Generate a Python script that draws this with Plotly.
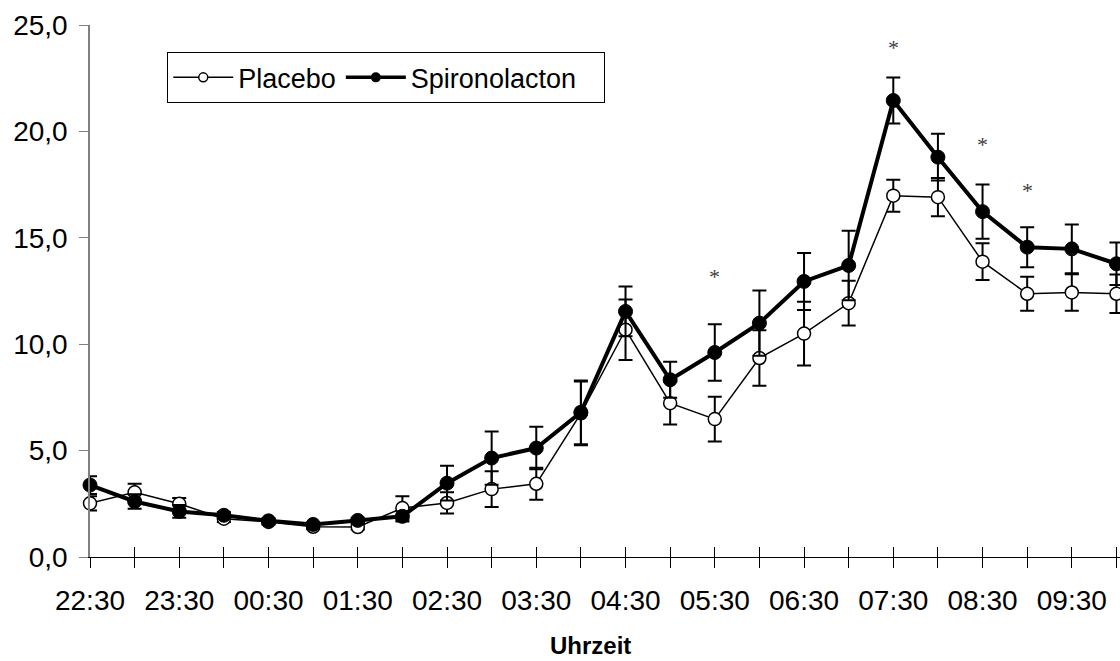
import plotly.graph_objects as go

times = ["22:30", "23:00", "23:30", "00:00", "00:30", "01:00", "01:30", "02:00",
         "02:30", "03:00", "03:30", "04:00", "04:30", "05:00", "05:30", "06:00",
         "06:30", "07:00", "07:30", "08:00", "08:30", "09:00", "09:30", "10:00"]

placebo = [2.52, 3.04, 2.50, 1.80, 1.65, 1.42, 1.41, 2.30, 2.54, 3.19, 3.44, 6.75,
           10.68, 7.23, 6.48, 9.35, 10.50, 11.93, 16.98, 16.91, 13.88, 12.37, 12.43, 12.37]
placebo_err = [0.33, 0.40, 0.27, 0.15, 0.12, 0.10, 0.12, 0.55, 0.50, 0.84, 0.75, 1.50,
               1.42, 1.00, 1.05, 1.30, 1.50, 1.05, 0.75, 0.90, 0.86, 0.80, 0.86, 0.90]

spiro = [3.38, 2.61, 2.14, 1.96, 1.70, 1.53, 1.72, 1.91, 3.47, 4.65, 5.12, 6.80,
         11.54, 8.33, 9.61, 10.99, 12.95, 13.70, 21.45, 18.79, 16.23, 14.56, 14.48, 13.78]
spiro_err = [0.42, 0.34, 0.30, 0.15, 0.12, 0.10, 0.12, 0.24, 0.82, 1.25, 1.00, 1.50,
             1.17, 0.85, 1.33, 1.53, 1.34, 1.63, 1.08, 1.10, 1.27, 0.94, 1.15, 1.00]

tick_text = [t if i % 2 == 0 else "" for i, t in enumerate(times)]

sig_times = ["05:30", "07:30", "08:30", "09:00"]
sig_y = [13.2, 23.95, 19.4, 17.2]

x_title = "Uhrzeit"

FONT = "Liberation Sans, Arial, sans-serif"

fig = go.Figure()

fig.add_trace(go.Scatter(
    x=times, y=placebo, mode="lines+markers", name="Placebo", showlegend=False,
    line=dict(color="black", width=1.5),
    marker=dict(symbol="circle", size=13, color="white", line=dict(color="black", width=1.5)),
    error_y=dict(type="data", array=placebo_err, color="black", thickness=2, width=7),
    cliponaxis=False,
))
fig.add_trace(go.Scatter(
    x=times, y=spiro, mode="lines+markers", name="Spironolacton", showlegend=False,
    line=dict(color="black", width=4),
    marker=dict(symbol="circle", size=14, color="black", line=dict(color="black", width=1)),
    error_y=dict(type="data", array=spiro_err, color="black", thickness=2, width=7),
    cliponaxis=False,
))

# legend entries
fig.add_trace(go.Scatter(
    x=[None], y=[None], mode="lines+markers", name="Placebo",
    line=dict(color="black", width=1.5),
    marker=dict(symbol="circle", size=9, color="white", line=dict(color="black", width=1.5)),
))
fig.add_trace(go.Scatter(
    x=[None], y=[None], mode="lines+markers", name="Spironolacton&nbsp;&nbsp;&nbsp;",
    line=dict(color="black", width=3.5),
    marker=dict(symbol="circle", size=10, color="black"),
))

# helper trace for the inward half of the x ticks
fig.add_trace(go.Scatter(x=times, y=placebo, xaxis="x2", mode="none",
                         showlegend=False, hoverinfo="skip"))

for t, yv in zip(sig_times, sig_y):
    fig.add_annotation(x=t, y=yv, text="*", showarrow=False, xref="x", yref="y",
                       font=dict(family="Liberation Serif, Times New Roman, serif",
                                 size=22, color="#404040"),
                       yanchor="middle")

fig.add_annotation(text="<b>" + x_title + "</b>", xref="paper", yref="paper",
                   x=0.4864, y=-0.166, xanchor="center", yanchor="middle",
                   showarrow=False, font=dict(family=FONT, size=24, color="black"))

xrange = [0, 23.08]

fig.update_layout(
    width=1120, height=661,
    margin=dict(l=90, r=0, t=25, b=104),
    paper_bgcolor="white", plot_bgcolor="white",
    separators=",.",
    font=dict(family=FONT, size=27, color="black"),
    xaxis=dict(
        type="category", categoryorder="array", categoryarray=times,
        range=xrange, tickmode="array", tickvals=times, ticktext=tick_text,
        showline=True, linecolor="black", linewidth=1,
        ticks="outside", ticklen=10, tickwidth=1, tickcolor="black",
        showgrid=False, zeroline=False,
        tickfont=dict(family=FONT, size=28, color="black"),
        ticklabelstandoff=8,
    ),
    xaxis2=dict(
        type="category", categoryorder="array", categoryarray=times,
        overlaying="x", anchor="y", side="bottom",
        range=xrange, tickmode="array", tickvals=times, ticktext=[""] * len(times),
        showline=False, ticks="inside", ticklen=10, tickwidth=1, tickcolor="black",
        showgrid=False, zeroline=False, showticklabels=False,
    ),
    yaxis=dict(
        range=[0, 25], tickmode="linear", tick0=0, dtick=5, tickformat=".1f",
        showline=True, linecolor="#808080", linewidth=1.5,
        ticks="outside", ticklen=9, tickwidth=1, tickcolor="#808080",
        showgrid=False, zeroline=False,
        tickfont=dict(family=FONT, size=28, color="black"),
        ticklabelstandoff=6,
    ),
    legend=dict(
        x=0.075, y=0.9487, xanchor="left", yanchor="top",
        orientation="h", bordercolor="black", borderwidth=1, bgcolor="white",
        font=dict(family=FONT, size=27, color="black"),
        itemwidth=60, tracegroupgap=0,
    ),
)

fig.write_html("out.html")
